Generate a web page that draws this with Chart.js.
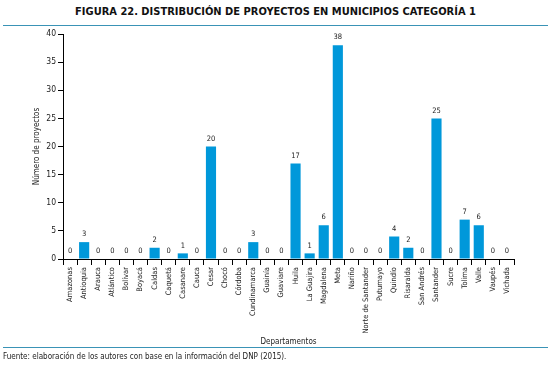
<!DOCTYPE html>
<html>
<head>
<meta charset="utf-8">
<script src="https://cdn.jsdelivr.net/npm/chart.js@4"></script>
<style>
html,body{margin:0;padding:0;background:#fff;}
#wrap{position:relative;width:551px;height:366px;overflow:hidden;}
#title{position:absolute;left:0;top:5px;width:551px;text-align:center;font-family:"Liberation Sans Narrow","DejaVu Sans Condensed",sans-serif;font-weight:bold;font-size:11px;letter-spacing:0px;color:#111;}
.rule{position:absolute;left:3px;width:545px;height:0;border-top:1px solid #3a93b6;}
#src{position:absolute;left:3px;top:352px;font-family:"Liberation Sans Narrow","DejaVu Sans Condensed",sans-serif;font-size:8px;color:#222;}
canvas{position:absolute;left:0;top:0;}
</style>
</head>
<body>
<div id="wrap">
<div id="title">FIGURA 22. DISTRIBUCIÓN DE PROYECTOS EN MUNICIPIOS CATEGORÍA 1</div>
<div class="rule" style="top:25px"></div>
<canvas id="c" width="551" height="366"></canvas>
<div class="rule" style="top:347px"></div>
<div id="src">Fuente: elaboración de los autores con base en la información del DNP (2015).</div>
</div>
<script>
const categories = ["Amazonas","Antioquia","Arauca","Atlántico","Bolívar","Boyacá","Caldas","Caquetá","Casanare","Cauca","Cesar","Chocó","Córdoba","Cundinamarca","Guainía","Guaviare","Huila","La Guajira","Magdalena","Meta","Nariño","Norte de Santander","Putumayo","Quindío","Risaralda","San Andrés","Santander","Sucre","Tolima","Valle","Vaupés","Vichada"];
const proyectos = [0,3,0,0,0,0,2,0,1,0,20,0,0,3,0,0,17,1,6,38,0,0,0,4,2,0,25,0,7,6,0,0];
const yTicks = [0,5,10,15,20,25,30,35,40];
const xTitle = "Departamentos";
const yTitle = "Número de proyectos";

const FONT = '"Liberation Sans Narrow","DejaVu Sans Condensed",sans-serif';

const valueLabels = {
  id: 'valueLabels',
  afterDatasetsDraw(chart) {
    const ctx = chart.ctx;
    const meta = chart.getDatasetMeta(0);
    ctx.save();
    ctx.font = '7.5px ' + FONT;
    ctx.fillStyle = '#222';
    ctx.textAlign = 'center';
    ctx.textBaseline = 'bottom';
    meta.data.forEach((bar, i) => {
      ctx.fillText(String(proyectos[i]), bar.x, bar.y - 4);
    });
    ctx.restore();
  }
};

new Chart(document.getElementById('c'), {
  type: 'bar',
  data: {
    labels: categories,
    datasets: [{
      data: proyectos,
      backgroundColor: '#0098da',
      barPercentage: 0.72,
      categoryPercentage: 1.0
    }]
  },
  options: {
    responsive: false,
    animation: false,
    layout: { padding: { top: 34, left: 32, right: 37, bottom: 19 } },
    plugins: { legend: { display: false }, tooltip: { enabled: false } },
    scales: {
      x: {
        offset: true,
        grid: { offset: true, drawOnChartArea: false, drawTicks: true, tickLength: 6, color: '#000', lineWidth: 1 },
        border: { color: '#000', width: 1 },
        ticks: { autoSkip: false, maxRotation: 90, minRotation: 90, padding: 2, color: '#222', font: { family: FONT, size: 7.5 } },
        title: { display: true, text: xTitle, color: '#222', font: { family: FONT, size: 8 }, padding: { top: 0, bottom: 0 } },
        afterFit(scale) { scale.height = 88; }
      },
      y: {
        min: 0, max: 40,
        afterBuildTicks(scale) { scale.ticks = yTicks.map(v => ({ value: v })); },
        grid: { drawOnChartArea: false, drawTicks: true, tickLength: 5, color: '#000', lineWidth: 1 },
        border: { color: '#000', width: 1 },
        ticks: { padding: 2, color: '#222', font: { family: FONT, size: 8.5 } },
        title: { display: true, text: yTitle, color: '#222', font: { family: FONT, size: 8 }, padding: { top: 0, bottom: 0 } },
        afterFit(scale) { scale.width = 31; }
      }
    }
  },
  plugins: [valueLabels]
});
</script>
</body>
</html>
